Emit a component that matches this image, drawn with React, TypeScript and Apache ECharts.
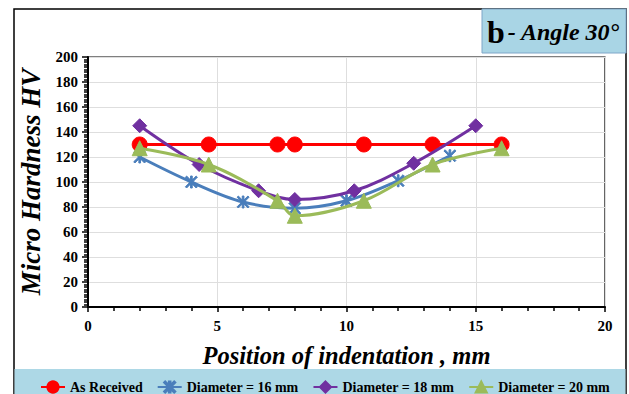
import React, { useEffect, useRef } from "react";
import * as echarts from "echarts";

const seriesNames = ["As Received", "Diameter = 16 mm", "Diameter = 18 mm", "Diameter = 20 mm"];
const asReceivedX = [2, 4.67, 7.33, 8, 10.67, 13.33, 16];
const asReceivedY = [130, 130, 130, 130, 130, 130, 130];
const d16X = [2, 4, 6, 8, 10, 12, 14];
const d16Y = [120, 100, 84, 79, 85, 101, 121];
const d18X = [2, 4.3, 6.6, 8, 10.3, 12.6, 15];
const d18Y = [145, 114, 93, 86, 93, 115, 145];
const d20X = [2, 4.67, 7.33, 8, 10.67, 13.33, 16];
const d20Y = [127, 114, 85, 73, 85, 114, 127];
const xTicks = [0, 5, 10, 15, 20];
const yTicks = [0, 20, 40, 60, 80, 100, 120, 140, 160, 180, 200];

const colors = ["#ff0000", "#4a7ebb", "#7030a0", "#9bbb59"];
const starPath =
  "path://M1,0 L5,4 L9,0 L10,1 L6,5 L10,9 L9,10 L5,6 L1,10 L0,9 L4,5 L0,1 Z M4.3,0 L5.7,0 L5.7,10 L4.3,10 Z";
const symbols = ["circle", starPath, "diamond", "triangle"];
const symbolSizes = [15, 12, 14, 15];

const zip = (xs: number[], ys: number[]) => xs.map((x, i) => [x, ys[i]]);

const FONT = "'Liberation Serif', 'Times New Roman', Times, serif";

export default function App() {
  const ref = useRef<HTMLDivElement>(null);
  useEffect(() => {
    if (!ref.current) return;
    const chart = echarts.init(ref.current, undefined, { renderer: "svg" });
    const datas = [
      zip(asReceivedX, asReceivedY),
      zip(d16X, d16Y),
      zip(d18X, d18Y),
      zip(d20X, d20Y),
    ];
    chart.setOption({
      animation: false,
      backgroundColor: "#ffffff",
      textStyle: { fontFamily: FONT },
      graphic: [
        {
          type: "rect",
          shape: { x: 14, y: 9, width: 612, height: 400 },
          style: { fill: "none", stroke: "#000", lineWidth: 1.5 },
          z: 0,
        },
        {
          type: "rect",
          shape: { x: 14.5, y: 369, width: 611, height: 30 },
          style: { fill: "#add8e6", stroke: "none" },
          z: 0,
        },
        {
          type: "rect",
          shape: { x: 482, y: 9, width: 144, height: 44 },
          style: { fill: "#a9d5e5", stroke: "#7ea6c8", lineWidth: 1 },
          z: 1,
        },
        {
          type: "text",
          x: 487,
          y: 32,
          style: {
            text: "{b|b}{r|- Angle 30°}",
            verticalAlign: "middle",
            rich: {
              b: { fontFamily: FONT, fontWeight: "bold", fontSize: 32, fill: "#000" },
              r: {
                fontFamily: FONT,
                fontWeight: "bold",
                fontStyle: "italic",
                fontSize: 24,
                fill: "#000",
                padding: [0, 0, 0, 3],
              },
            },
          },
          z: 2,
        },
      ],
      grid: {
        left: 88,
        top: 57,
        right: 24,
        bottom: 87,
        show: true,
        borderColor: "#000",
        borderWidth: 1.2,
        backgroundColor: "transparent",
      },
      legend: {
        data: seriesNames,
        left: 35,
        top: 375,
        itemWidth: 24,
        itemHeight: 14,
        itemGap: 14,
        textStyle: { fontFamily: FONT, fontWeight: "bold", fontSize: 14, color: "#000" },
      },
      xAxis: {
        type: "value",
        min: 0,
        max: 20,
        interval: 5,
        name: "Position of indentation , mm",
        nameLocation: "middle",
        nameGap: 36,
        nameTextStyle: {
          fontFamily: FONT,
          fontWeight: "bold",
          fontStyle: "italic",
          fontSize: 24.5,
          color: "#000",
        },
        axisLine: { show: true, onZero: false, lineStyle: { color: "#000", width: 2 } },
        axisTick: { show: true, inside: false, length: 5, lineStyle: { color: "#000", width: 1.5 } },
        minorTick: { show: true, splitNumber: 5, length: 4, lineStyle: { color: "#000", width: 1.5 } },
        axisLabel: {
          margin: 11,
          fontFamily: FONT,
          fontWeight: "bold",
          fontSize: 15,
          color: "#000",
          formatter: (v: number) => (xTicks.includes(v) ? String(v) : ""),
        },
        splitLine: { show: true, lineStyle: { color: "#dedede", width: 1 } },
      },
      yAxis: {
        type: "value",
        min: 0,
        max: 200,
        interval: 20,
        name: "Micro Hardness HV",
        nameLocation: "middle",
        nameGap: 44,
        nameTextStyle: {
          fontFamily: FONT,
          fontWeight: "bold",
          fontStyle: "italic",
          fontSize: 27,
          color: "#000",
        },
        axisLine: { show: true, onZero: false, lineStyle: { color: "#000", width: 2 } },
        axisTick: { show: true, inside: false, length: 6, lineStyle: { color: "#000", width: 1.5 } },
        minorTick: { show: true, splitNumber: 10, length: 4, lineStyle: { color: "#000", width: 1.5 } },
        axisLabel: {
          margin: 10,
          fontFamily: FONT,
          fontWeight: "bold",
          fontSize: 15,
          color: "#000",
          formatter: (v: number) => (yTicks.includes(v) ? String(v) : ""),
        },
        splitLine: { show: true, lineStyle: { color: "#dedede", width: 1 } },
      },
      series: seriesNames.map((name, i) => ({
        name,
        type: "line",
        data: datas[i],
        smooth: i === 0 ? false : 0.35,
        symbol: symbols[i],
        symbolSize: symbolSizes[i],
        showAllSymbol: true,
        lineStyle: { color: colors[i], width: 3 },
        itemStyle: { color: colors[i], borderColor: colors[i], borderWidth: 1 },
        z: 3 + i,
      })),
    });
    return () => chart.dispose();
  }, []);
  return (
    <div
      ref={ref}
      style={{ position: "fixed", left: 0, top: 0, width: 629, height: 394, background: "#fff" }}
    />
  );
}
